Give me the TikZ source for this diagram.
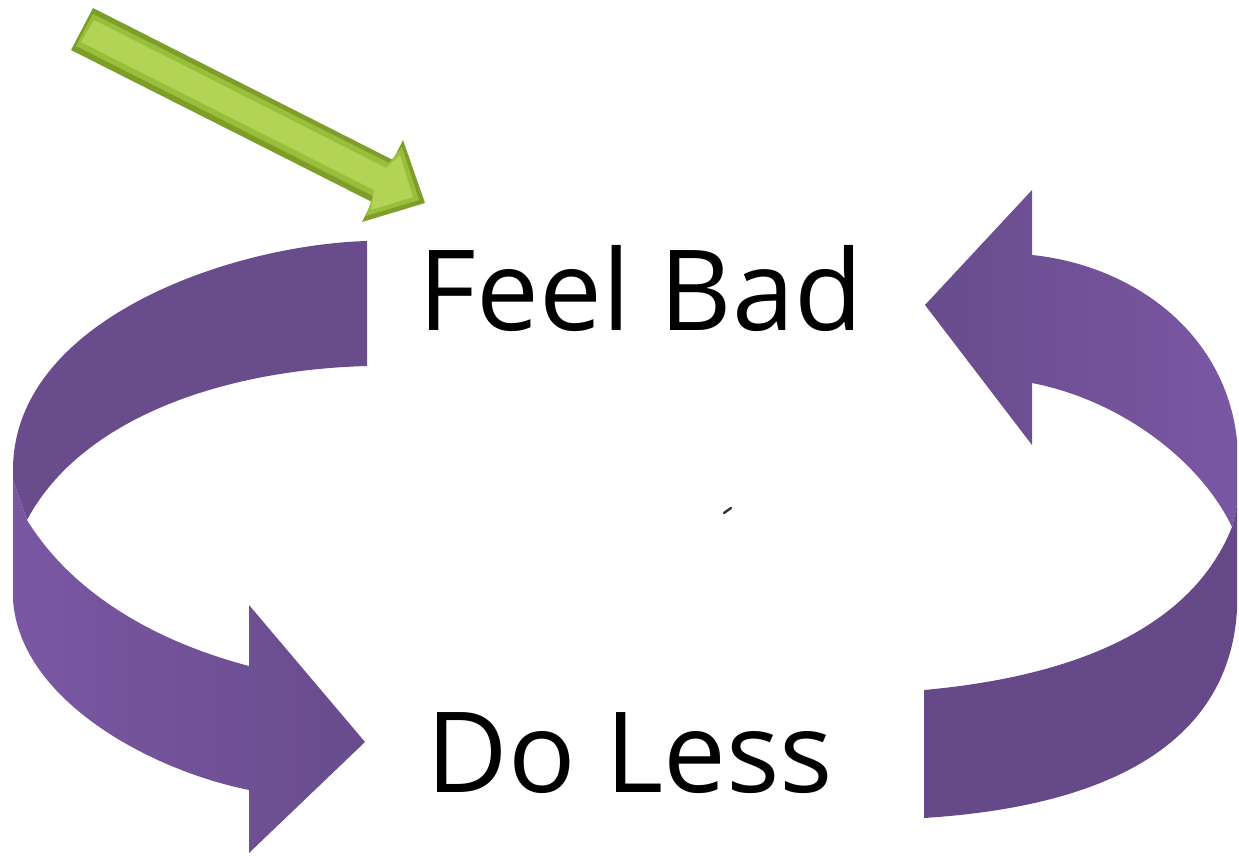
\documentclass[tikz,border=0pt]{standalone}
\usepackage{fontspec}
\setmainfont{Open Sans}
\usetikzlibrary{positioning}
\definecolor{bandDark}{HTML}{684C8C}
\definecolor{bandDeep}{HTML}{654989}
\definecolor{bandLight}{HTML}{7A57A3}
\definecolor{leafDark}{HTML}{7E9E2A}
\definecolor{leafMid}{HTML}{98BE3A}
\definecolor{leafLight}{HTML}{B2D356}

\begin{document}
\begin{tikzpicture}[x=0.5pt, y=-0.5pt,
    word/.style={font=\fontsize{56}{60}\selectfont, anchor=base, inner sep=0pt}]
\useasboundingbox (0,0) rectangle (1239,856);

% left loop, back part
\fill[bandDark] (367,241) .. controls (230,245) and (13,320) .. (13,470)
  -- (13,480) -- (27,520) .. controls (80,420) and (220,370) .. (367,366) -- cycle;
% left loop, front part with head
\shade[left color=bandLight, right color=bandDark] (13,480) -- (13,600)
  .. controls (20,700) and (150,770) .. (249,790) -- (249,853) -- (365,742)
  -- (249,605) -- (249,666) .. controls (150,640) and (70,590) .. (27,520) -- cycle;

% right loop, back part with head
\shade[left color=bandDark, right color=bandLight] (1032,255)
  .. controls (1130,265) and (1225,330) .. (1237,440) -- (1237,505) -- (1232,527)
  .. controls (1200,460) and (1120,400) .. (1032,383) -- (1032,445) -- (925,305)
  -- (1032,190) -- cycle;
% right loop, front part
\fill[bandDeep] (1237,505) -- (1237,610) .. controls (1230,730) and (1130,805) .. (924,818)
  -- (924,690) .. controls (1090,675) and (1195,620) .. (1232,527) -- cycle;

% green arrow
\fill[leafDark] (93,8) -- (393,160) -- (403,140) -- (425,203) -- (362,222)
  -- (372,202) -- (71,50) -- cycle;
\fill[leafMid] (93,14) -- (389,163) -- (402,147) -- (419,200) -- (366,216)
  -- (373,196) -- (76,46) -- cycle;
\fill[leafLight] (94,20) -- (386,168) -- (400,155) -- (413,197) -- (371,210)
  -- (374,190) -- (81,42) -- cycle;

\draw[line width=1.2, line cap=round, black!80] (724,513) -- (731,508);

\node[word] (feel) at (641,330) {Feel Bad};
\node[word] (less) at (630,792) {Do Less};
\end{tikzpicture}
\end{document}
